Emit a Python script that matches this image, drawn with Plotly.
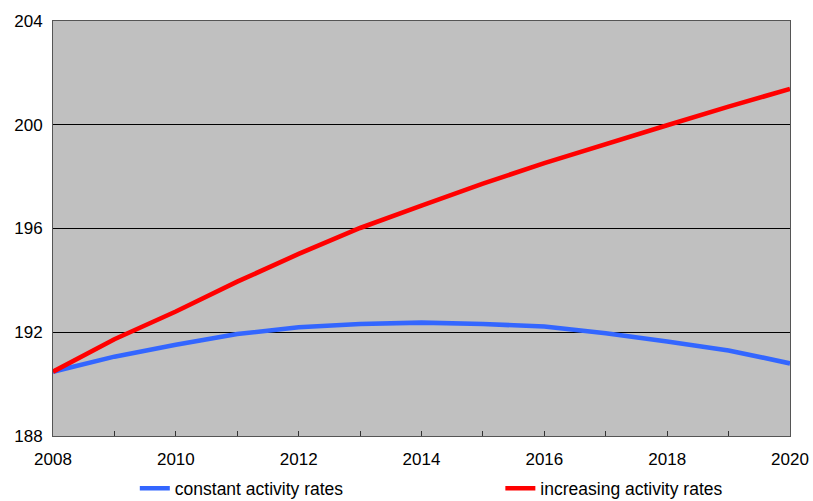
import plotly.graph_objects as go

years = list(range(2008, 2021))
constant_rates = [190.48, 191.06, 191.52, 191.93, 192.19, 192.32, 192.37,
                  192.32, 192.22, 191.96, 191.64, 191.30, 190.80]
increasing_rates = [190.48, 191.73, 192.80, 193.95, 195.02, 196.02, 196.88,
                    197.73, 198.52, 199.23, 199.98, 200.70, 201.38]

fig = go.Figure()
fig.add_trace(go.Scatter(x=years, y=constant_rates, mode='lines',
                         name='constant activity rates', legend='legend',
                         line=dict(color='#3366FF', width=4.6)))
fig.add_trace(go.Scatter(x=years, y=increasing_rates, mode='lines',
                         name='increasing activity rates', legend='legend2',
                         line=dict(color='#FF0000', width=4.6)))

leg = dict(orientation='h', xanchor='left', y=-0.083, yanchor='top',
           font=dict(size=17.5), bgcolor='rgba(0,0,0,0)')

fig.update_layout(
    width=813, height=501,
    margin=dict(l=53, r=23, t=21, b=65, autoexpand=False),
    paper_bgcolor='white',
    plot_bgcolor='#C0C0C0',
    font=dict(family='Liberation Sans, Arial', size=17, color='black'),
    showlegend=True,
    legend=dict(leg, x=0.111),
    legend2=dict(leg, x=0.607),
)
fig.update_xaxes(
    range=[2008, 2020], dtick=2, tick0=2008,
    showgrid=False, zeroline=False,
    showline=True, linecolor='#555555', linewidth=1, mirror=True,
    ticks='inside', ticklen=5, tickcolor='#333333',
    minor=dict(dtick=1, ticks='inside', ticklen=5, tickcolor='#333333'),
    ticklabelstandoff=8,
)
fig.update_yaxes(
    range=[188, 204], dtick=4, tick0=188,
    showgrid=True, gridcolor='black', gridwidth=1, zeroline=False,
    showline=True, linecolor='#555555', linewidth=1, mirror=True,
    ticks='', ticklabelstandoff=6,
)

# page has a default body margin, drop it so the figure sits at 0,0
fig.write_html("out.html", config={'displayModeBar': False},
               post_script="document.body.style.margin='0';")
